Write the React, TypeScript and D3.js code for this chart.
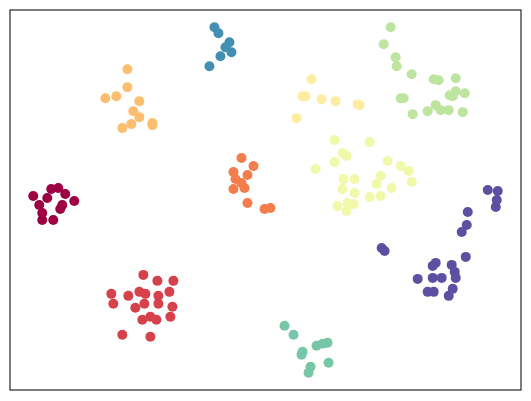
import * as d3 from 'd3';
import { useEffect, useRef } from 'react';

// cluster points (x right, y down)
const class0 = [[33, 196], [51, 189], [58, 188], [65, 194], [47, 198], [74, 201], [39, 205], [62, 205], [60, 209], [42, 213], [42, 220], [53, 220]];
const class1 = [[143, 275], [157, 281], [173, 281], [111, 294], [128, 296], [139, 292], [145, 294], [158, 296], [169, 292], [113, 304], [144, 304], [158, 304], [135, 308], [172, 307], [142, 320], [150, 317], [156, 320], [170, 317], [122, 335], [150, 337]];
const class2 = [[241, 158], [253, 166], [233, 172], [247, 175], [235, 179], [241, 183], [233, 189], [244, 188], [247, 203], [264, 209], [270, 208]];
const class3 = [[127, 69], [127, 87], [105, 98], [116, 96], [139, 101], [133, 111], [139, 117], [152, 123], [152, 125], [131, 124], [122, 128]];
const class4 = [[311, 79], [302, 96], [305, 96], [321, 99], [335, 101], [357, 104], [359, 105], [296, 118]];
const class5 = [[334, 140], [369, 142], [342, 153], [346, 156], [334, 162], [315, 169], [387, 161], [400, 166], [408, 171], [343, 179], [354, 179], [380, 176], [376, 184], [411, 182], [342, 189], [354, 193], [391, 188], [369, 197], [380, 196], [337, 206], [347, 203], [353, 204], [346, 211]];
const class6 = [[390, 27], [383, 44], [395, 57], [396, 66], [411, 74], [433, 79], [438, 80], [455, 78], [400, 98], [403, 98], [455, 91], [449, 95], [452, 96], [464, 93], [435, 105], [427, 111], [440, 110], [448, 110], [462, 112], [412, 114]];
const class7 = [[284, 326], [293, 335], [302, 352], [301, 355], [316, 346], [322, 344], [327, 343], [310, 367], [308, 373], [328, 363]];
const class8 = [[214, 27], [218, 33], [229, 42], [225, 47], [231, 52], [220, 56], [209, 66]];
const class9 = [[487, 190], [497, 191], [496, 200], [495, 207], [467, 212], [466, 225], [461, 232], [381, 248], [384, 251], [465, 257], [435, 263], [432, 266], [451, 265], [454, 272], [455, 278], [417, 279], [432, 278], [441, 278], [427, 292], [433, 292], [452, 289], [448, 296]];

const clusters = [class0, class1, class2, class3, class4, class5, class6, class7, class8, class9];

const App = () => {
  const ref = useRef<SVGSVGElement>(null);

  useEffect(() => {
    const width = 531;
    const height = 401;
    const box = { left: 10, top: 10, right: 521, bottom: 390 };

    const svg = d3.select(ref.current);
    svg.selectAll('*').remove();
    svg.attr('width', width).attr('height', height);

    const all = clusters.flat();
    const [x0, x1] = d3.extent(all, d => d[0]) as [number, number];
    const [y0, y1] = d3.extent(all, d => d[1]) as [number, number];
    const padX = (x1 - x0) * 0.05;
    const padY = (y1 - y0) * 0.05;

    const x = d3.scaleLinear().domain([x0 - padX, x1 + padX]).range([box.left, box.right]);
    const y = d3.scaleLinear().domain([y0 - padY, y1 + padY]).range([box.top, box.bottom]);
    const color = (i: number) => d3.interpolateSpectral(i / 9);

    svg.append('rect')
      .attr('width', width)
      .attr('height', height)
      .attr('fill', '#fff');

    clusters.forEach((pts, i) => {
      svg.append('g')
        .selectAll('circle')
        .data(pts)
        .enter()
        .append('circle')
        .attr('cx', d => x(d[0]))
        .attr('cy', d => y(d[1]))
        .attr('r', 5)
        .attr('fill', color(i));
    });

    // frame
    svg.append('rect')
      .attr('x', box.left)
      .attr('y', box.top)
      .attr('width', box.right - box.left)
      .attr('height', box.bottom - box.top)
      .attr('fill', 'none')
      .attr('stroke', '#262626')
      .attr('stroke-width', 1.2);
  }, []);

  return (
    <svg ref={ref} style={{ position: 'absolute', left: 0, top: 0 }}></svg>
  );
};

export default App;
